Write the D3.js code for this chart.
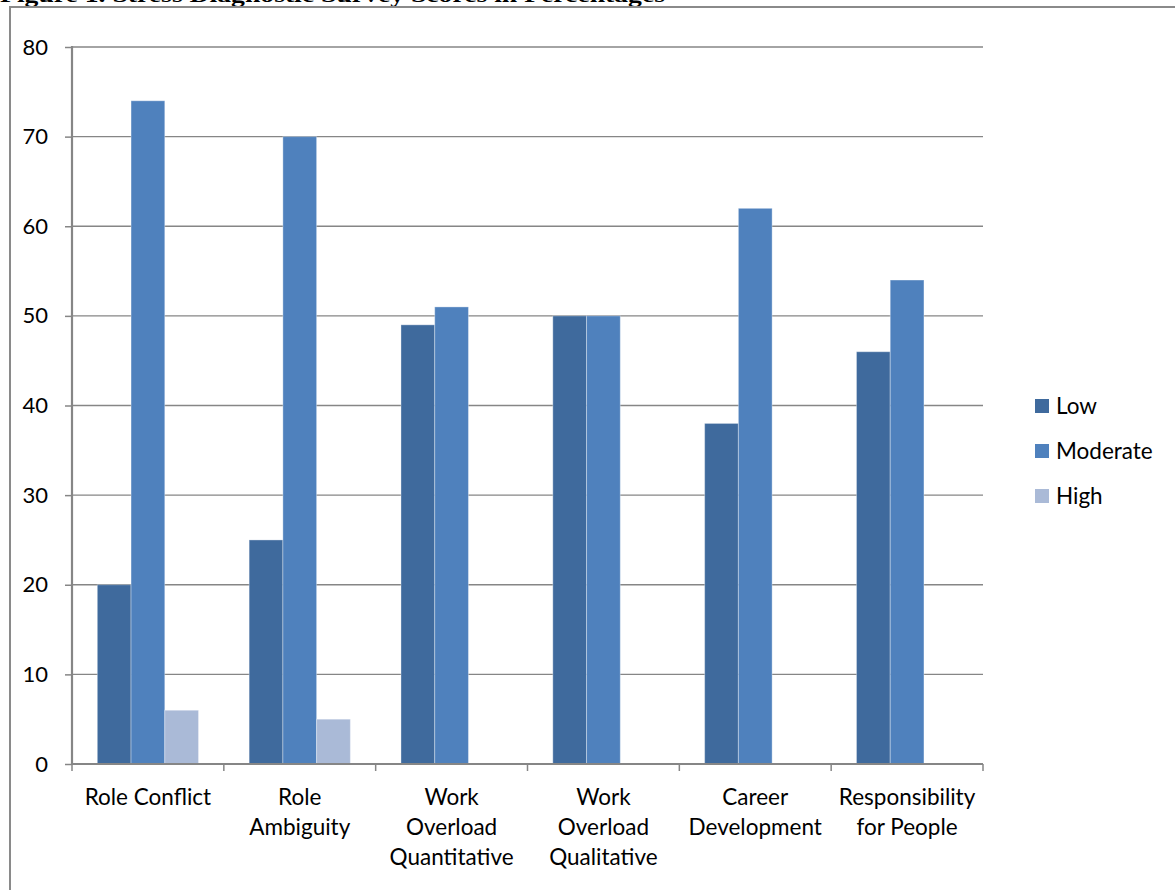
<!DOCTYPE html>
<html>
<head>
<meta charset="utf-8">
<script src="https://cdnjs.cloudflare.com/ajax/libs/d3/7.8.5/d3.min.js"></script>
<style>
  body { margin: 0; background: #fff; }
  svg { display: block; }
</style>
</head>
<body>
<svg></svg>
<script>
var w = 1175, h = 890;

var categories = [
  ["Role Conflict"],
  ["Role", "Ambiguity"],
  ["Work", "Overload", "Quantitative"],
  ["Work", "Overload", "Qualitative"],
  ["Career", "Development"],
  ["Responsibility", "for People"]
];
var seriesNames = ["Low", "Moderate", "High"];
var lowValues = [20, 25, 49, 50, 38, 46];
var moderateValues = [74, 70, 51, 50, 62, 54];
var highValues = [6, 5, 0, 0, 0, 0];
var yTicks = [0, 10, 20, 30, 40, 50, 60, 70, 80];
var colors = ["#3F6A9D", "#4F81BD", "#AABAD7"];

// plot box (don't call these top/left, window.top is read only)
var pLeft = 72, pRight = 983, pTop = 47, pBottom = 764;
var font = "Lato, 'Open Sans', sans-serif";

var svg = d3.select("svg").attr("width", w).attr("height", h);

// title, cut at the top like the scan
svg.append("text")
  .attr("x", 0).attr("y", 2)
  .attr("font-family", "'Liberation Serif', 'Times New Roman', serif")
  .attr("font-weight", "bold")
  .attr("font-size", 22)
  .attr("textLength", 665)
  .attr("lengthAdjust", "spacingAndGlyphs")
  .text("Figure 1. Stress Diagnostic Survey Scores in Percentages");

// frame
svg.append("rect")
  .attr("x", 10).attr("y", 7)
  .attr("width", 1200).attr("height", 950)
  .attr("fill", "none")
  .attr("stroke", "#8a8a8a").attr("stroke-width", 2);

var idx = d3.range(categories.length);
var x0 = d3.scaleBand().domain(idx).range([pLeft, pRight]).paddingInner(0).paddingOuter(0);
var x1 = d3.scaleBand().domain([0, 1, 2])
  .range([0, x0.bandwidth()]).paddingOuter(0.75).paddingInner(0);
var y = d3.scaleLinear().domain([0, 80]).range([pBottom, pTop]);

// gridlines
svg.append("g").selectAll("line")
  .data(yTicks.slice(1))
  .enter().append("line")
  .attr("x1", pLeft).attr("x2", pRight)
  .attr("y1", function(d){ return y(d); })
  .attr("y2", function(d){ return y(d); })
  .attr("stroke", "#868686").attr("stroke-width", 1.3);

// bars
var data = [lowValues, moderateValues, highValues];
var groups = svg.append("g").selectAll("g")
  .data(idx).enter().append("g")
  .attr("transform", function(i){ return "translate(" + x0(i) + ",0)"; });

groups.selectAll("rect")
  .data(function(i){
    return data.map(function(s, k){ return {k: k, v: s[i]}; })
               .filter(function(d){ return d.v > 0; });
  })
  .enter().append("rect")
  .attr("x", function(d){ return x1(d.k); })
  .attr("width", x1.bandwidth())
  .attr("y", function(d){ return y(d.v); })
  .attr("height", function(d){ return y(0) - y(d.v); })
  .attr("fill", function(d){ return colors[d.k]; })
  .attr("stroke", "#ffffff").attr("stroke-opacity", 0.35).attr("stroke-width", 1);

// y axis
var yAxis = svg.append("g")
  .attr("transform", "translate(" + pLeft + ",0)")
  .call(d3.axisLeft(y).tickValues(yTicks).tickSize(7).tickPadding(17));
yAxis.select(".domain").attr("stroke", "#868686").attr("stroke-width", 2.2)
  .attr("d", "M0," + (pTop - 1) + "V" + pBottom);
yAxis.selectAll(".tick line").attr("stroke", "#868686").attr("stroke-width", 1.5);
yAxis.selectAll(".tick text")
  .attr("font-family", font).attr("font-size", 22).attr("fill", "#000");

// x axis
var xAxis = svg.append("g").attr("transform", "translate(0," + pBottom + ")");
xAxis.append("line")
  .attr("x1", pLeft).attr("x2", pRight)
  .attr("stroke", "#868686").attr("stroke-width", 2.2);
xAxis.selectAll("line.tk")
  .data(d3.range(categories.length + 1))
  .enter().append("line").attr("class", "tk")
  .attr("x1", function(i){ return pLeft + i * x0.bandwidth(); })
  .attr("x2", function(i){ return pLeft + i * x0.bandwidth(); })
  .attr("y1", 0).attr("y2", 7)
  .attr("stroke", "#868686").attr("stroke-width", 1.5);

var labels = xAxis.selectAll("text.lab")
  .data(idx).enter().append("text").attr("class", "lab")
  .attr("text-anchor", "middle")
  .attr("font-family", font).attr("font-size", 22.5).attr("fill", "#000");
labels.selectAll("tspan")
  .data(function(i){ return categories[i].map(function(t){ return {i: i, t: t}; }); })
  .enter().append("tspan")
  .attr("x", function(d){ return x0(d.i) + x0.bandwidth() / 2; })
  .attr("y", function(d, j){ return 41 + j * 30; })
  .text(function(d){ return d.t; });

// legend
var legend = svg.append("g").selectAll("g")
  .data(seriesNames).enter().append("g")
  .attr("transform", function(d, k){ return "translate(1035," + (406 + k * 45) + ")"; });
legend.append("rect")
  .attr("x", 0).attr("y", -7).attr("width", 14).attr("height", 14)
  .attr("fill", function(d, k){ return colors[k]; });
legend.append("text")
  .attr("x", 21).attr("y", 8)
  .attr("font-family", font).attr("font-size", 22.5).attr("fill", "#000")
  .text(function(d){ return d; });
</script>
</body>
</html>
